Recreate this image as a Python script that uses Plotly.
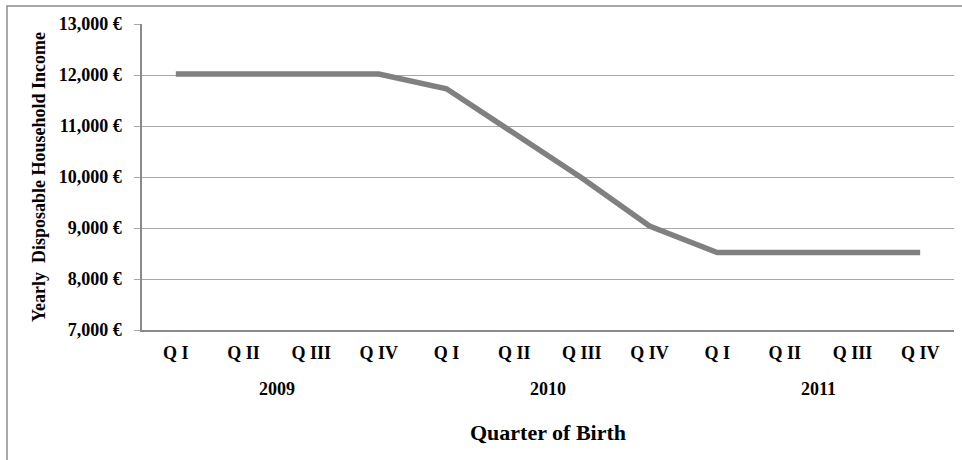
import plotly.graph_objects as go

quarters = ["Q I", "Q II", "Q III", "Q IV"] * 3
years = ["2009", "2010", "2011"]
income = [12020, 12020, 12020, 12020, 11730, 10870, 9980, 9040, 8520, 8520, 8520, 8520]
ytick_vals = [7000, 8000, 9000, 10000, 11000, 12000, 13000]
ytick_text = ["7,000 €", "8,000 €", "9,000 €", "10,000 €", "11,000 €", "12,000 €", "13,000 €"]

FONT = "Liberation Serif"
xs = list(range(len(income)))

fig = go.Figure()
fig.add_trace(go.Scatter(x=xs, y=income, mode="lines",
                         line=dict(color="#808080", width=5.5),
                         hoverinfo="skip", showlegend=False))

fig.update_layout(
    width=962, height=460,
    margin=dict(l=142, r=8, t=24, b=130),
    paper_bgcolor="white", plot_bgcolor="white",
    font=dict(family=FONT, color="#000000"),
    xaxis=dict(range=[-0.5, 11.5], tickmode="array", tickvals=xs, ticktext=quarters,
               showgrid=False, zeroline=False, showline=True, linecolor="#8a8a8a", linewidth=1.5,
               ticks="", tickfont=dict(family=FONT, size=18, color="#000000", weight="bold"),
               ticklabelstandoff=6, fixedrange=True),
    yaxis=dict(range=[7000, 13000], tickmode="array", tickvals=ytick_vals, ticktext=ytick_text,
               showgrid=True, gridcolor="#a8a8a8", gridwidth=1.3, zeroline=False,
               showline=True, linecolor="#8a8a8a", linewidth=1.5,
               ticks="outside", ticklen=6, tickcolor="#a8a8a8", tickwidth=1.3,
               tickfont=dict(family=FONT, size=18, color="#000000", weight="bold"),
               ticklabelstandoff=9,
               title=dict(text="Yearly  Disposable Household Income",
                          font=dict(family=FONT, size=18, color="#000000", weight="bold"),
                          standoff=8),
               fixedrange=True),
)

for i, yr in enumerate(years):
    fig.add_annotation(x=i * 4 + 1.5, xref="x", y=(330 - 389) / 306, yref="paper",
                       text=yr, showarrow=False,
                       font=dict(family=FONT, size=18, color="#000000", weight="bold"),
                       xanchor="center", yanchor="middle")

fig.add_annotation(x=0.5, xref="paper", y=(330 - 432) / 306, yref="paper",
                   text="Quarter of Birth", showarrow=False,
                   font=dict(family=FONT, size=22, color="#000000", weight="bold"),
                   xanchor="center", yanchor="middle")

fig.add_shape(type="rect", xref="paper", yref="paper",
              x0=(7 - 142) / 812, x1=1.2, y0=-0.6, y1=(330 - 6) / 306,
              line=dict(color="#8c8c8c", width=1.5), fillcolor="rgba(0,0,0,0)", layer="below")

fig.write_html("out.html", config={"displayModeBar": False},
               post_script="document.body.style.margin='0';document.body.style.overflow='hidden';")
